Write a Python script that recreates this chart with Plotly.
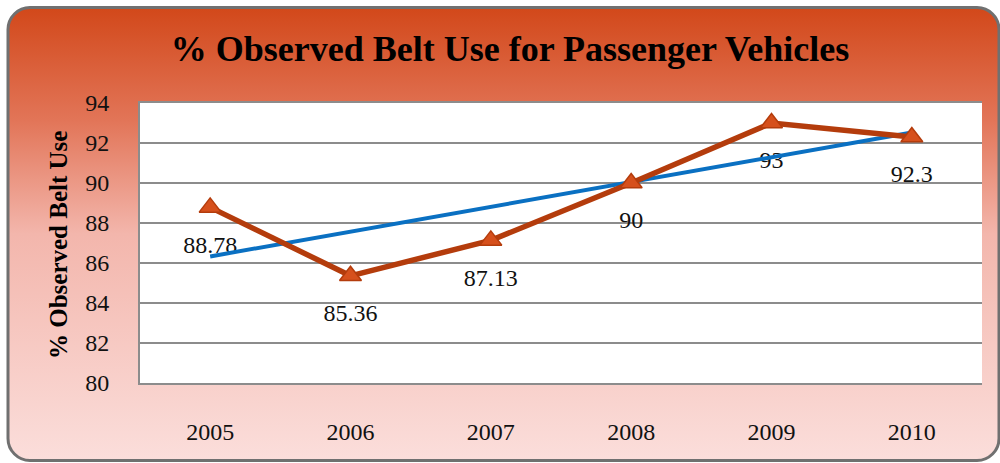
import base64

import numpy as np
import plotly.graph_objects as go

years = ["2005", "2006", "2007", "2008", "2009", "2010"]
belt_use = [88.78, 85.36, 87.13, 90, 93, 92.3]
label_text = ["88.78", "85.36", "87.13", "90", "93", "92.3"]
y_ticks = [80, 82, 84, 86, 88, 90, 92, 94]

W, H = 1000, 463
ML, MR, MT, MB = 140, 18, 103, 80
PW, PH = W - ML - MR, H - MT - MB

# linear trendline through the observed values
idx = np.arange(len(belt_use))
slope, icpt = np.polyfit(idx, belt_use, 1)
trend = slope * idx + icpt

# rounded gradient frame behind everything
svg = f"""<svg xmlns='http://www.w3.org/2000/svg' width='{W}' height='{H}' viewBox='0 0 {W} {H}' preserveAspectRatio='none'>
<defs><linearGradient id='g' x1='0' y1='0' x2='0' y2='1'>
<stop offset='0' stop-color='#D2481A'/>
<stop offset='0.25' stop-color='#E27558'/>
<stop offset='0.5' stop-color='#F3B6AC'/>
<stop offset='1' stop-color='#FBDEDB'/>
</linearGradient></defs>
<rect x='8' y='7.5' width='991' height='453' rx='22' ry='22' fill='url(#g)' stroke='#707070' stroke-width='3'/>
</svg>"""
bg_src = "data:image/svg+xml;base64," + base64.b64encode(svg.encode()).decode()

serif = "Liberation Serif"

fig = go.Figure()

fig.add_trace(go.Scatter(
    x=years, y=belt_use, mode="markers+text",
    text=label_text, textposition="bottom center",
    marker=dict(size=42, color="rgba(0,0,0,0)"),
    textfont=dict(family=serif, size=24, color="#111111"),
    hoverinfo="skip", showlegend=False,
))

fig.add_trace(go.Scatter(
    x=years, y=trend, mode="lines",
    line=dict(color="#0A70C2", width=4),
    showlegend=False,
))

fig.add_trace(go.Scatter(
    x=years, y=belt_use, mode="lines+markers",
    line=dict(color="#B43C0C", width=5.5),
    marker=dict(symbol="triangle-up", size=19, color="#D6501C",
                line=dict(color="#B43C0C", width=1.5)),
    showlegend=False,
))

fig.update_layout(
    width=W, height=H,
    margin=dict(l=ML, r=MR, t=MT, b=MB, pad=0),
    paper_bgcolor="white",
    plot_bgcolor="white",
    title=dict(
        text="<b>% Observed Belt Use for Passenger Vehicles</b>",
        x=0.51, xanchor="center", y=1 - 48 / H, yanchor="middle",
        xref="container", yref="container",
        font=dict(family=serif, size=36, color="black"),
    ),
    images=[dict(
        source=bg_src, xref="paper", yref="paper",
        x=-ML / PW, y=1 + MT / PH, sizex=W / PW, sizey=H / PH,
        xanchor="left", yanchor="top", sizing="stretch", layer="below",
    )],
    shapes=[dict(
        type="rect", xref="paper", yref="paper", x0=0, x1=1, y0=0, y1=1,
        fillcolor="white", line=dict(width=0), layer="below",
    )],
    annotations=[dict(
        text="<b>% Observed Belt Use</b>", textangle=-90,
        xref="paper", yref="paper", x=(58 - ML) / PW, y=(H - MB - 245) / PH,
        xanchor="center", yanchor="middle", showarrow=False,
        font=dict(family=serif, size=25, color="black"),
    )],
)

fig.update_xaxes(
    type="category", range=[-0.5, 5.5],
    showgrid=False, showline=True, mirror=True,
    linecolor="#8C8C8C", linewidth=2, ticks="",
    ticklabelstandoff=26,
    tickfont=dict(family=serif, size=24, color="#111111"),
)
fig.update_yaxes(
    range=[80, 94], tickvals=y_ticks,
    showgrid=True, gridcolor="#8C8C8C", gridwidth=2,
    zeroline=False, showline=True, linecolor="#8C8C8C", linewidth=2,
    ticks="", ticklabelstandoff=24,
    tickfont=dict(family=serif, size=24, color="#111111"),
)

fig.write_html("out.html", config={"displayModeBar": False},
               post_script="document.body.style.margin='0';")
